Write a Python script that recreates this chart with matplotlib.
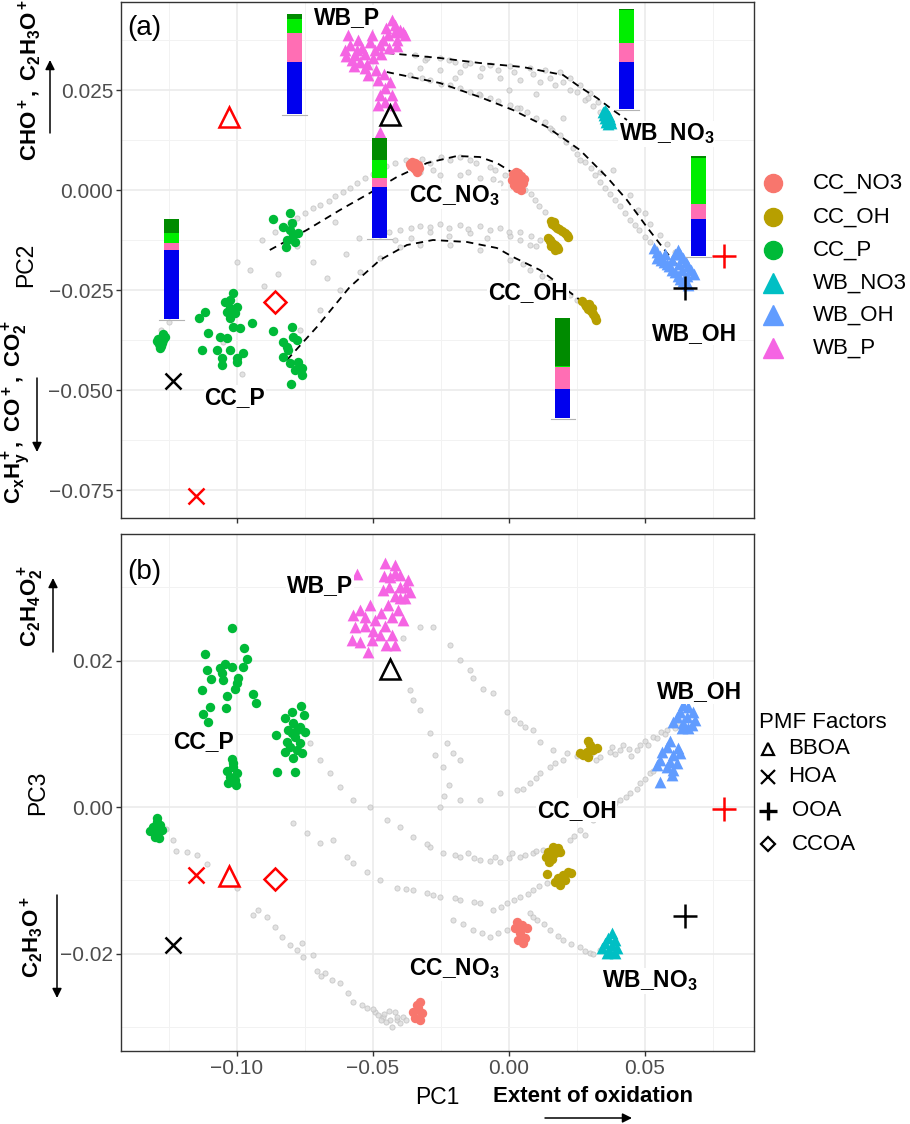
import numpy as np
import matplotlib
matplotlib.use('Agg')
import matplotlib.pyplot as plt
from matplotlib.lines import Line2D
from matplotlib.ticker import MultipleLocator, FuncFormatter

plt.rcParams['font.family'] = ['Liberation Sans', 'DejaVu Sans']
plt.rcParams['mathtext.fontset'] = 'custom'
plt.rcParams['mathtext.rm'] = 'Liberation Sans'
plt.rcParams['mathtext.bf'] = 'Liberation Sans:bold'
plt.rcParams['mathtext.it'] = 'Liberation Sans:italic'

# ---------------- data: panel (a) PC1 vs PC2 ----------------
bg_a = [
    # WB_P -> WB_NO3 band
    (-0.0346, 0.0338), (-0.0309, 0.0325), (-0.0254, 0.0330), (-0.0199, 0.0320), (-0.0143, 0.0318),
    (-0.0070, 0.0313), (0.0004, 0.0310), (0.0077, 0.0305), (0.0132, 0.0300), (0.0188, 0.0295),
    (0.0224, 0.0280), (0.0261, 0.0263), (0.0298, 0.0243), (0.0327, 0.0220), (0.0353, 0.0200),
    (-0.0327, 0.0305), (-0.0254, 0.0300), (-0.0180, 0.0295), (-0.0107, 0.0285), (-0.0033, 0.0280),
    (0.0040, 0.0275), (0.0114, 0.0270), (0.0169, 0.0263), (0.0224, 0.0250), (0.0279, 0.0225),
    (-0.0300, 0.0330), (-0.0220, 0.0325), (-0.0160, 0.0312), (-0.0100, 0.0305), (-0.0040, 0.0300),
    (0.0020, 0.0295), (0.0090, 0.0290), (0.0150, 0.0280), (0.0200, 0.0270), (0.0250, 0.0245),
    (0.0290, 0.0230), (0.0310, 0.0210), (0.0335, 0.0195),
    # WB_P -> WB_OH band
    (-0.0364, 0.0288), (-0.0290, 0.0275), (-0.0217, 0.0263), (-0.0143, 0.0245), (-0.0070, 0.0230),
    (0.0004, 0.0213), (0.0066, 0.0195), (0.0132, 0.0170), (0.0188, 0.0138), (0.0235, 0.0105),
    (0.0279, 0.0070), (0.0316, 0.0038), (0.0353, 0.0005), (0.0390, -0.0025), (0.0426, -0.0058),
    (0.0463, -0.0088), (0.0500, -0.0118), (0.0537, -0.0145),
    (-0.0107, 0.0238), (0.0040, 0.0205), (0.0151, 0.0155), (0.0261, 0.0075), (0.0335, 0.0045),
    (0.0382, 0.0050), (0.0445, -0.0013), (0.0500, -0.0058), (0.0555, -0.0113), (0.0610, -0.0155),
    (0.0000, 0.0250), (0.0100, 0.0240), (-0.0200, 0.0280), (0.0200, 0.0180),
    (-0.0320, 0.0280), (-0.0250, 0.0265), (-0.0180, 0.0255), (-0.0110, 0.0240), (-0.0040, 0.0222),
    (0.0030, 0.0205), (0.0100, 0.0180), (0.0160, 0.0150), (0.0210, 0.0120), (0.0250, 0.0090),
    (0.0300, 0.0055), (0.0335, 0.0020), (0.0370, -0.0010), (0.0410, -0.0040), (0.0445, -0.0075),
    (0.0480, -0.0100), (0.0520, -0.0130), (0.0475, -0.0050), (0.0520, -0.0085), (0.0580, -0.0135),
    # CC_P -> CC_NO3 band
    (-0.0908, -0.0125), (-0.0860, -0.0105), (-0.0805, -0.0080), (-0.0750, -0.0058), (-0.0695, -0.0038),
    (-0.0640, -0.0015), (-0.0585, 0.0005), (-0.0529, 0.0030), (-0.0474, 0.0050), (-0.0419, 0.0068),
    (-0.0290, 0.0068), (-0.0217, 0.0075), (-0.0143, 0.0075), (-0.0070, 0.0058), (-0.0015, 0.0038),
    (-0.0327, 0.0045), (-0.0254, 0.0038), (-0.0180, 0.0038), (-0.0107, 0.0030), (-0.0033, 0.0018),
    (0.0040, 0.0005), (0.0059, 0.0000), (0.0096, -0.0025), (0.0132, -0.0055),
    (-0.0450, 0.0060), (-0.0380, 0.0075), (-0.0320, 0.0078), (-0.0250, 0.0082), (-0.0180, 0.0083),
    (-0.0120, 0.0068), (-0.0050, 0.0050), (-0.0280, 0.0050), (-0.0150, 0.0045), (-0.0060, 0.0028),
    (0.0080, -0.0010), (0.0110, -0.0040),
    (-0.0830, -0.0095), (-0.0780, -0.0070), (-0.0720, -0.0045), (-0.0660, -0.0028), (-0.0610, -0.0005),
    (-0.0560, 0.0018), (-0.0500, 0.0040),
    # middle band towards CC_OH
    (-0.0474, -0.0113), (-0.0401, -0.0100), (-0.0327, -0.0090), (-0.0254, -0.0085), (-0.0180, -0.0088),
    (-0.0107, -0.0090), (-0.0033, -0.0095), (0.0040, -0.0105), (0.0114, -0.0125), (-0.0419, -0.0125),
    (-0.0290, -0.0105), (-0.0143, -0.0108), (0.0004, -0.0115), (0.0077, -0.0138),
    (-0.0440, -0.0105), (-0.0360, -0.0095), (-0.0290, -0.0092), (-0.0220, -0.0095), (-0.0150, -0.0098),
    (-0.0070, -0.0100), (0.0000, -0.0105), (0.0080, -0.0115), (-0.0360, -0.0120), (-0.0220, -0.0115),
    (-0.0080, -0.0120), (0.0040, -0.0125), (0.0100, -0.0140),
    # lower arc
    (-0.0768, -0.0350), (-0.0695, -0.0300), (-0.0621, -0.0250), (-0.0548, -0.0205), (-0.0474, -0.0170),
    (-0.0401, -0.0143), (-0.0327, -0.0138), (-0.0217, -0.0138), (-0.0107, -0.0150), (0.0004, -0.0175),
    (0.0077, -0.0200), (0.0151, -0.0230), (0.0224, -0.0263), (0.0279, -0.0288),
    (0.0050, -0.0185), (0.0120, -0.0215), (0.0190, -0.0245), (0.0250, -0.0275),
    # scattered
    (-0.0950, -0.0200), (-0.0900, -0.0240), (-0.0850, -0.0210), (-0.0720, -0.0180), (-0.0670, -0.0220),
    (-0.0600, -0.0160), (-0.0550, -0.0120), (-0.1000, -0.0180), (-0.0780, -0.0140), (-0.0640, -0.0080),
    (-0.1050, -0.0380), (-0.0980, -0.0460), (-0.1280, -0.0350), (-0.1250, -0.0330),
]

cc_no3_a = [(-0.0365, 0.0065), (-0.0355, 0.0070), (-0.0345, 0.0068), (-0.0335, 0.0062), (-0.0330, 0.0055),
            (-0.0340, 0.0050), (-0.0350, 0.0056), (-0.0360, 0.0060), (-0.0338, 0.0045),
            (0.0015, 0.0040), (0.0025, 0.0045), (0.0035, 0.0042), (0.0045, 0.0035), (0.0055, 0.0028),
            (0.0050, 0.0018), (0.0040, 0.0010), (0.0030, 0.0005), (0.0020, 0.0012), (0.0012, 0.0025),
            (0.0030, 0.0025), (0.0045, 0.0000)]
cc_oh_a = [(0.0155, -0.0078), (0.0160, -0.0085), (0.0168, -0.0090), (0.0175, -0.0095), (0.0185, -0.0098),
           (0.0195, -0.0103), (0.0205, -0.0108), (0.0212, -0.0113), (0.0218, -0.0118), (0.0165, -0.0080),
           (0.0145, -0.0120), (0.0152, -0.0128), (0.0160, -0.0133), (0.0168, -0.0138), (0.0175, -0.0143),
           (0.0182, -0.0148), (0.0155, -0.0140), (0.0170, -0.0150), (0.0150, -0.0125),
           (0.0270, -0.0278), (0.0278, -0.0285), (0.0285, -0.0290), (0.0292, -0.0297), (0.0300, -0.0302),
           (0.0308, -0.0310), (0.0315, -0.0318), (0.0322, -0.0325), (0.0295, -0.0285), (0.0305, -0.0295)]
cc_p_a = [(-0.1295, -0.0378), (-0.1288, -0.0385), (-0.1280, -0.0390), (-0.1272, -0.0375), (-0.1265, -0.0368),
          (-0.1283, -0.0395), (-0.1290, -0.0372), (-0.1275, -0.0382), (-0.1270, -0.0360),
          (-0.1140, -0.0320), (-0.1118, -0.0305), (-0.1107, -0.0358), (-0.1129, -0.0400), (-0.1074, -0.0400),
          (-0.1055, -0.0420), (-0.1055, -0.0438), (-0.1063, -0.0367), (-0.1037, -0.0370), (-0.1026, -0.0400),
          (-0.1000, -0.0420), (-0.1000, -0.0430), (-0.0978, -0.0408), (-0.1015, -0.0258), (-0.1044, -0.0280),
          (-0.1026, -0.0295), (-0.1007, -0.0308), (-0.1026, -0.0320), (-0.1000, -0.0293), (-0.1015, -0.0343),
          (-0.0989, -0.0345), (-0.0945, -0.0333), (-0.1037, -0.0305), (-0.1026, -0.0275),
          (-0.0868, -0.0353), (-0.0798, -0.0343), (-0.0831, -0.0380), (-0.0794, -0.0368), (-0.0779, -0.0375),
          (-0.0816, -0.0393), (-0.0831, -0.0418), (-0.0805, -0.0433), (-0.0776, -0.0430), (-0.0761, -0.0445),
          (-0.0787, -0.0450), (-0.0761, -0.0463), (-0.0801, -0.0485), (-0.0812, -0.0400),
          (-0.0868, -0.0073), (-0.0805, -0.0058), (-0.0831, -0.0093), (-0.0805, -0.0100), (-0.0794, -0.0113),
          (-0.0776, -0.0108), (-0.0816, -0.0125), (-0.0787, -0.0130), (-0.0820, -0.0143), (-0.0798, -0.0083)]
wb_no3_a = [(0.0345, 0.0195), (0.0350, 0.0188), (0.0360, 0.0192), (0.0368, 0.0185), (0.0355, 0.0180),
            (0.0362, 0.0175), (0.0370, 0.0172), (0.0375, 0.0168), (0.0365, 0.0165), (0.0358, 0.0170),
            (0.0372, 0.0178), (0.0352, 0.0200)]
wb_oh_a = [(0.0535, -0.0145), (0.0545, -0.0155), (0.0555, -0.0165), (0.0545, -0.0170), (0.0560, -0.0175),
           (0.0570, -0.0180), (0.0580, -0.0185), (0.0590, -0.0190), (0.0600, -0.0200), (0.0610, -0.0205),
           (0.0620, -0.0215), (0.0630, -0.0222), (0.0640, -0.0228), (0.0650, -0.0232), (0.0660, -0.0238),
           (0.0610, -0.0160), (0.0620, -0.0150), (0.0630, -0.0160), (0.0640, -0.0170), (0.0650, -0.0180),
           (0.0660, -0.0190), (0.0670, -0.0200), (0.0680, -0.0210), (0.0625, -0.0185), (0.0575, -0.0160),
           (0.0655, -0.0215), (0.0600, -0.0175), (0.0635, -0.0200)]
wb_p_a = [(-0.0585, 0.0363), (-0.0603, 0.0350), (-0.0566, 0.0338), (-0.0540, 0.0355), (-0.0511, 0.0370),
          (-0.0548, 0.0320), (-0.0529, 0.0305), (-0.0577, 0.0325), (-0.0493, 0.0350), (-0.0474, 0.0363),
          (-0.0445, 0.0388), (-0.0419, 0.0413), (-0.0401, 0.0400), (-0.0430, 0.0425), (-0.0382, 0.0388),
          (-0.0463, 0.0375), (-0.0412, 0.0375), (-0.0504, 0.0388), (-0.0518, 0.0288), (-0.0482, 0.0275),
          (-0.0456, 0.0255), (-0.0437, 0.0270), (-0.0474, 0.0238), (-0.0430, 0.0238), (-0.0456, 0.0220),
          (-0.0482, 0.0213), (-0.0419, 0.0213), (-0.0555, 0.0375), (-0.0592, 0.0388), (-0.0474, 0.0145),
          (-0.0560, 0.0350), (-0.0530, 0.0340), (-0.0500, 0.0330), (-0.0470, 0.0340), (-0.0440, 0.0355),
          (-0.0410, 0.0360), (-0.0390, 0.0395), (-0.0420, 0.0395), (-0.0450, 0.0405), (-0.0520, 0.0315),
          (-0.0490, 0.0300), (-0.0460, 0.0290), (-0.0600, 0.0335), (-0.0570, 0.0310)]

# loess-type trend curves in panel (a)
curve_wb_no3 = [(-0.0449, 0.03425), (-0.0254, 0.0330), (-0.0107, 0.03175), (0.0051, 0.03075), (0.0199, 0.02875),
                (0.0261, 0.02575), (0.0324, 0.0230), (0.0382, 0.0200), (0.0434, 0.0175)]
curve_wb_oh = [(-0.0449, 0.0295), (-0.0254, 0.02675), (-0.0107, 0.02325), (0.0015, 0.0200), (0.0140, 0.01575),
               (0.0261, 0.0100), (0.0360, 0.00325), (0.0434, -0.0025), (0.0507, -0.00925), (0.0581, -0.01575),
               (0.0665, -0.0225)]
curve_cc_no3 = [(-0.0879, -0.0150), (-0.0743, -0.0100), (-0.0621, -0.0050), (-0.0511, -0.00075), (-0.0412, 0.00325),
                (-0.0301, 0.00675), (-0.0191, 0.0085), (-0.0107, 0.00825), (-0.0044, 0.00675), (0.0015, 0.00425)]
curve_cc_oh = [(-0.0816, -0.0425), (-0.0706, -0.03425), (-0.0585, -0.02425), (-0.0474, -0.0175), (-0.0375, -0.01375),
               (-0.0279, -0.0125), (-0.0154, -0.0130), (-0.0044, -0.0145), (0.0015, -0.01675), (0.0114, -0.0200),
               (0.0199, -0.02425), (0.0261, -0.0275), (0.0324, -0.0330)]

# stacked composition bars (fractions, bottom -> top)
bar_groups = ['WB_P', 'CC_NO3', 'CC_P', 'WB_NO3', 'WB_OH', 'CC_OH']
frac_blue = [0.52, 0.52, 0.69, 0.47, 0.37, 0.29]
frac_pink = [0.29, 0.09, 0.07, 0.19, 0.16, 0.22]
frac_lime = [0.14, 0.18, 0.10, 0.33, 0.46, 0.01]
frac_dkgreen = [0.05, 0.22, 0.14, 0.01, 0.02, 0.48]

# ---------------- data: panel (b) PC1 vs PC3 ----------------
bg_b = [
    (-0.1184, -0.0061), (-0.1147, -0.0066), (-0.1110, -0.0078), (-0.0941, -0.0147), (-0.0923, -0.0141),
    (-0.0860, -0.0164), (-0.0835, -0.0177), (-0.0805, -0.0188), (-0.0761, -0.0186), (-0.0757, -0.0205),
    (-0.0721, -0.0202), (-0.0706, -0.0224), (-0.0676, -0.0227), (-0.0651, -0.0236), (-0.0621, -0.0240),
    (-0.0592, -0.0254), (-0.0574, -0.0266), (-0.0522, -0.0274), (-0.0493, -0.0280), (-0.0463, -0.0287),
    (-0.0438, -0.0291), (-0.0412, -0.0291), (-0.0390, -0.0287), (-0.0480, -0.0284), (-0.0450, -0.0293),
    (-0.0420, -0.0280), (-0.0400, -0.0295), (-0.0440, -0.0278), (-0.0470, -0.0291), (-0.0430, -0.0300),
    (-0.1260, -0.0030), (-0.1235, -0.0045), (-0.1225, -0.0060),
    (-0.0540, -0.0270), (-0.0500, -0.0276), (-0.0460, -0.0282), (-0.0410, -0.0286), (-0.0380, -0.0290),
    (-0.1000, -0.0110), (-0.0890, -0.0150), (-0.0780, -0.0195), (-0.0690, -0.0230),
    (-0.0732, 0.0087), (-0.0695, 0.0064), (-0.0658, 0.0046), (-0.0621, 0.0027), (-0.0574, 0.0010),
    (-0.0511, 0.0000), (-0.0449, -0.0018), (-0.0401, -0.0027), (-0.0353, -0.0041), (-0.0290, -0.0055),
    (-0.0243, -0.0063), (-0.0180, -0.0068), (-0.0107, -0.0072), (-0.0033, -0.0075), (0.0040, -0.0068),
    (0.0088, -0.0063), (0.0125, -0.0059), (0.0224, -0.0045), (0.0261, -0.0031), (0.0309, -0.0018),
    (0.0360, -0.0004), (0.0408, 0.0010), (0.0445, 0.0019), (0.0482, 0.0033), (0.0518, 0.0046),
    (0.0544, 0.0055), (-0.0150, -0.0062), (-0.0050, -0.0068), (0.0010, -0.0062), (0.0280, -0.0038),
    (0.0350, -0.0010), (0.0430, 0.0014), (0.0500, 0.0038),
    (-0.0300, -0.0050), (-0.0200, -0.0066), (-0.0130, -0.0070), (-0.0070, -0.0073), (0.0000, -0.0070),
    (0.0060, -0.0066), (0.0100, -0.0060), (0.0240, -0.0040), (0.0330, -0.0012), (0.0390, 0.0005),
    (0.0470, 0.0025), (0.0530, 0.0050),
    (-0.0794, -0.0022), (-0.0743, -0.0035), (-0.0695, -0.0049), (-0.0647, -0.0045), (-0.0596, -0.0068),
    (-0.0574, -0.0076), (-0.0522, -0.0089), (-0.0474, -0.0100), (-0.0412, -0.0111), (-0.0353, -0.0113),
    (-0.0301, -0.0117), (-0.0254, -0.0123), (-0.0180, -0.0127), (-0.0107, -0.0131), (-0.0059, -0.0141),
    (-0.0007, -0.0131), (0.0040, -0.0123), (0.0088, -0.0113), (0.0140, -0.0104),
    (-0.0380, -0.0112), (-0.0280, -0.0120), (-0.0200, -0.0124), (-0.0130, -0.0130), (-0.0030, -0.0136),
    (0.0020, -0.0127), (0.0070, -0.0118), (0.0110, -0.0108),
    (-0.0390, 0.0231), (-0.0327, 0.0246), (-0.0279, 0.0246), (-0.0217, 0.0221), (-0.0180, 0.0201),
    (-0.0143, 0.0187), (-0.0132, 0.0176), (-0.0096, 0.0162), (-0.0059, 0.0156), (-0.0007, 0.0130),
    (0.0040, 0.0115), (0.0088, 0.0105), (0.0114, 0.0089), (0.0162, 0.0078), (0.0213, 0.0074),
    (0.0335, 0.0068), (0.0408, 0.0078), (0.0482, 0.0085), (0.0529, 0.0096), (0.0581, 0.0105),
    (0.0603, 0.0112), (0.0300, 0.0072), (0.0370, 0.0075), (0.0440, 0.0080), (0.0500, 0.0090),
    (0.0560, 0.0102), (0.0620, 0.0115), (0.0450, 0.0070), (0.0380, 0.0082),
    (0.0250, 0.0070), (0.0320, 0.0065), (0.0390, 0.0072), (0.0420, 0.0085), (0.0470, 0.0078),
    (0.0510, 0.0085), (0.0545, 0.0095), (0.0575, 0.0100), (0.0610, 0.0108),
    (0.0050, 0.0025), (0.0100, 0.0040), (0.0170, 0.0060), (0.0060, 0.0110), (0.0020, 0.0120),
    (-0.0254, 0.0000), (-0.0180, 0.0010), (-0.0107, 0.0010), (-0.0033, 0.0019), (0.0029, 0.0023),
    (0.0077, 0.0033), (0.0114, 0.0046), (0.0151, 0.0055), (0.0199, 0.0064),
    (-0.0364, 0.0160), (-0.0353, 0.0146), (-0.0327, 0.0132), (-0.0290, 0.0101), (-0.0272, 0.0071),
    (-0.0243, 0.0055), (-0.0228, 0.0087), (-0.0206, 0.0074), (-0.0180, 0.0064), (-0.0220, 0.0030),
    (-0.0240, 0.0015),
    (-0.0206, -0.0154), (-0.0132, -0.0168), (-0.0070, -0.0177), (-0.0007, -0.0168), (0.0077, -0.0145),
    (0.0103, -0.0154), (0.0151, -0.0168), (0.0199, -0.0182), (0.0261, -0.0191), (0.0298, -0.0199),
    (0.0335, -0.0195),
    (-0.0170, -0.0160), (-0.0100, -0.0172), (-0.0040, -0.0172), (0.0090, -0.0150), (0.0130, -0.0160),
    (0.0180, -0.0176), (0.0230, -0.0187), (0.0280, -0.0196), (0.0310, -0.0200),
]

cc_no3_b = [(0.0029, -0.0157), (0.0048, -0.0161), (0.0066, -0.0165), (0.0022, -0.0165), (0.0040, -0.0172),
            (0.0059, -0.0179), (0.0033, -0.0182), (0.0051, -0.0186),
            (-0.0327, -0.0266), (-0.0335, -0.0274), (-0.0353, -0.0280), (-0.0320, -0.0281), (-0.0346, -0.0288),
            (-0.0327, -0.0291), (-0.0338, -0.0270)]
cc_oh_b = [(0.0290, 0.0091), (0.0298, 0.0085), (0.0324, 0.0081), (0.0287, 0.0075), (0.0272, 0.0071),
           (0.0261, 0.0074), (0.0290, 0.0068), (0.0309, 0.0078),
           (0.0162, -0.0055), (0.0180, -0.0056), (0.0143, -0.0061), (0.0169, -0.0063), (0.0136, -0.0068),
           (0.0158, -0.0071), (0.0147, -0.0075), (0.0188, -0.0061),
           (0.0140, -0.0091), (0.0217, -0.0089), (0.0199, -0.0093), (0.0180, -0.0097), (0.0169, -0.0102),
           (0.0188, -0.0106), (0.0206, -0.0100), (0.0228, -0.0090)]
cc_p_b = [(-0.1018, 0.0244), (-0.1118, 0.0209), (-0.0974, 0.0218), (-0.0963, 0.0202), (-0.1110, 0.0187),
          (-0.1063, 0.0190), (-0.1044, 0.0195), (-0.1018, 0.0192), (-0.0978, 0.0192), (-0.1096, 0.0175),
          (-0.1051, 0.0173), (-0.0996, 0.0177), (-0.1000, 0.0169), (-0.1007, 0.0162), (-0.1129, 0.0160),
          (-0.1037, 0.0152), (-0.0941, 0.0154), (-0.0930, 0.0142), (-0.1099, 0.0137), (-0.1040, 0.0135),
          (-0.1125, 0.0127), (-0.1107, 0.0116), (-0.1055, 0.0183),
          (-0.0798, 0.0130), (-0.0765, 0.0138), (-0.0754, 0.0126), (-0.0824, 0.0122), (-0.0794, 0.0115),
          (-0.0768, 0.0109), (-0.0812, 0.0105), (-0.0750, 0.0102), (-0.0857, 0.0098), (-0.0787, 0.0096),
          (-0.0816, 0.0089), (-0.0768, 0.0087), (-0.0805, 0.0082), (-0.0779, 0.0078), (-0.0824, 0.0075),
          (-0.0761, 0.0074), (-0.0794, 0.0067), (-0.0853, 0.0048), (-0.0787, 0.0048), (-0.0798, 0.0101),
          (-0.0779, 0.0105),
          (-0.1018, 0.0066), (-0.1015, 0.0055), (-0.1037, 0.0049), (-0.1000, 0.0046), (-0.1026, 0.0041),
          (-0.1007, 0.0037), (-0.1033, 0.0033), (-0.1004, 0.0030), (-0.1015, 0.0060),
          (-0.1294, -0.0020), (-0.1309, -0.0027), (-0.1283, -0.0025), (-0.1320, -0.0033), (-0.1294, -0.0034),
          (-0.1276, -0.0031), (-0.1301, -0.0041), (-0.1287, -0.0042), (-0.1294, -0.0015)]
wb_no3_b = [(0.0379, -0.0172), (0.0364, -0.0179), (0.0390, -0.0182), (0.0353, -0.0186), (0.0379, -0.0188),
            (0.0342, -0.0192), (0.0397, -0.0192), (0.0371, -0.0198), (0.0390, -0.0199), (0.0360, -0.0199)]
wb_oh_b = [(0.0640, 0.0139), (0.0658, 0.0137), (0.0629, 0.0130), (0.0676, 0.0130), (0.0618, 0.0123),
           (0.0654, 0.0123), (0.0684, 0.0119), (0.0603, 0.0116), (0.0640, 0.0115), (0.0673, 0.0112),
           (0.0636, 0.0108), (0.0658, 0.0108),
           (0.0592, 0.0091), (0.0581, 0.0082), (0.0621, 0.0081), (0.0563, 0.0075), (0.0603, 0.0071),
           (0.0629, 0.0074), (0.0555, 0.0064), (0.0592, 0.0061), (0.0618, 0.0060), (0.0544, 0.0057),
           (0.0581, 0.0055), (0.0603, 0.0051), (0.0599, 0.0044), (0.0555, 0.0034)]
wb_p_b = [(-0.0456, 0.0333), (-0.0419, 0.0330), (-0.0401, 0.0317), (-0.0371, 0.0310), (-0.0437, 0.0314),
          (-0.0463, 0.0296), (-0.0419, 0.0289), (-0.0382, 0.0285), (-0.0364, 0.0294), (-0.0445, 0.0276),
          (-0.0408, 0.0269), (-0.0574, 0.0262), (-0.0548, 0.0269), (-0.0511, 0.0276), (-0.0493, 0.0255),
          (-0.0529, 0.0248), (-0.0566, 0.0246), (-0.0456, 0.0248), (-0.0474, 0.0235), (-0.0430, 0.0235),
          (-0.0504, 0.0228), (-0.0548, 0.0225), (-0.0452, 0.0221), (-0.0419, 0.0221), (-0.0559, 0.0319),
          (-0.0577, 0.0228), (-0.0518, 0.0212),
          (-0.0440, 0.0300), (-0.0400, 0.0300), (-0.0380, 0.0300), (-0.0470, 0.0265), (-0.0430, 0.0260),
          (-0.0390, 0.0255), (-0.0500, 0.0240), (-0.0530, 0.0260), (-0.0420, 0.0320), (-0.0460, 0.0315),
          (-0.0400, 0.0285)]

# PMF factor profiles projected on the PCs
pmf_black = ['BBOA', 'HOA', 'OOA']
pmf_black_pc1 = [-0.0436, -0.1236, 0.0648]
pmf_black_pc2 = [0.0187, -0.0478, -0.0245]
pmf_black_pc3 = [0.0188, -0.0188, -0.0149]
pmf_red = ['BBOA', 'HOA', 'OOA', 'CCOA']
pmf_red_pc1 = [-0.1030, -0.1150, 0.0790, -0.0860]
pmf_red_pc2 = [0.0183, -0.0765, -0.0165, -0.0280]
pmf_red_pc3 = [-0.0094, -0.0092, -0.0003, -0.0098]

groups = ['CC_NO3', 'CC_OH', 'CC_P', 'WB_NO3', 'WB_OH', 'WB_P']
group_colors = ['#F8766D', '#B79F00', '#00BA38', '#00BFC4', '#619CFF', '#F564E3']
group_markers = ['o', 'o', 'o', '^', '^', '^']
pmf_markers = {'BBOA': '^', 'HOA': 'x', 'OOA': '+', 'CCOA': 'D'}

# ---------------- figure ----------------
W, H = 910, 1124
fig = plt.figure(figsize=(W / 100, H / 100), dpi=100)


def fx(px):
    return px / W


def fy(py):
    return 1 - py / H


ax_a = fig.add_axes([fx(121), fy(518), 633 / W, 516 / H])
ax_b = fig.add_axes([fx(121), fy(1051), 633 / W, 517 / H])


def minus_fmt(dec):
    return FuncFormatter(lambda v, p: f"{v:.{dec}f}".replace('-', '\u2212'))


def style(ax, ylim, ystep, ydec):
    ax.set_xlim(-0.1426, 0.0901)
    ax.set_ylim(*ylim)
    ax.xaxis.set_major_locator(MultipleLocator(0.05))
    ax.xaxis.set_minor_locator(MultipleLocator(0.025))
    ax.yaxis.set_major_locator(MultipleLocator(ystep))
    ax.yaxis.set_minor_locator(MultipleLocator(ystep / 2))
    ax.xaxis.set_major_formatter(minus_fmt(2))
    ax.yaxis.set_major_formatter(minus_fmt(ydec))
    ax.grid(which='major', color='#ebebeb', lw=1.2)
    ax.grid(which='minor', color='#f2f2f2', lw=0.7)
    ax.set_axisbelow(True)
    ax.tick_params(which='minor', length=0)
    ax.tick_params(which='major', length=3.5, width=1, color='#333333',
                   labelsize=15, labelcolor='#4d4d4d', pad=2)
    for s in ax.spines.values():
        s.set_color('#333333')
        s.set_linewidth(1)


style(ax_a, (-0.082, 0.047), 0.025, 3)
style(ax_b, (-0.0333, 0.0373), 0.02, 2)
ax_a.tick_params(labelbottom=False)

group_data_a = [cc_no3_a, cc_oh_a, cc_p_a, wb_no3_a, wb_oh_a, wb_p_a]
group_data_b = [cc_no3_b, cc_oh_b, cc_p_b, wb_no3_b, wb_oh_b, wb_p_b]


def draw_points(ax, bg, gdata):
    b = np.array(bg)
    ax.scatter(b[:, 0], b[:, 1], s=14, facecolor='#d9d9d9', edgecolor='#bcbcbc',
               lw=0.6, alpha=0.75, zorder=1)
    for pts, c, m in zip(gdata, group_colors, group_markers):
        p = np.array(pts)
        ax.scatter(p[:, 0], p[:, 1], s=46 if m == 'o' else 72, color=c, marker=m,
                   lw=0, zorder=3)


draw_points(ax_a, bg_a, group_data_a)
draw_points(ax_b, bg_b, group_data_b)

for curve in [curve_wb_no3, curve_wb_oh, curve_cc_no3, curve_cc_oh]:
    c = np.array(curve)
    ax_a.plot(c[:, 0], c[:, 1], color='black', ls=(0, (4, 3)), lw=1.3, zorder=2)

# composition bars placed next to the clusters
bar_x = [-0.0789, -0.0476, -0.1241, 0.0434, 0.0697, 0.01985]
bar_y0 = [0.0190, -0.0120, -0.03225, 0.02025, -0.0165, -0.0570]
bar_h, bar_w = 0.025, 0.0055
seg_colors = ['#0000EE', '#FF6EB4', '#00EE00', '#008B00']
for i, g in enumerate(bar_groups):
    fr = np.array([frac_blue[i], frac_pink[i], frac_lime[i], frac_dkgreen[i]])
    fr = fr / fr.sum()
    bottom = bar_y0[i]
    for f, col in zip(fr, seg_colors):
        ax_a.bar(bar_x[i], f * bar_h, width=bar_w, bottom=bottom, color=col, lw=0, zorder=4)
        bottom += f * bar_h
    ax_a.plot([bar_x[i] - 0.0045, bar_x[i] + 0.0045], [bar_y0[i] - 0.0002] * 2,
              color='#b3b3b3', lw=0.8, zorder=4)


def draw_pmf(ax, names, xs, ys, color):
    for n, x, y in zip(names, xs, ys):
        m = pmf_markers[n]
        size = {'^': 15, 'x': 12, '+': 17, 'D': 11}[m]
        ax.plot(x, y, marker=m, ms=size, mfc='none', mec=color, mew=1.8, ls='none', zorder=5)


draw_pmf(ax_a, pmf_black, pmf_black_pc1, pmf_black_pc2, 'black')
draw_pmf(ax_a, pmf_red, pmf_red_pc1, pmf_red_pc2, '#FF0000')
draw_pmf(ax_b, pmf_black, pmf_black_pc1, pmf_black_pc3, 'black')
draw_pmf(ax_b, pmf_red, pmf_red_pc1, pmf_red_pc3, '#FF0000')

# cluster labels
lab_kw = dict(fontsize=16.5, fontweight='bold', ha='center', va='center', zorder=6,
              bbox=dict(fc='white', ec='none', pad=0.5))
labels_a = [('WB_P', -0.0596, 0.0432), ('WB_NO$_\\mathbf{3}$', 0.0580, 0.0140), ('CC_NO$_\\mathbf{3}$', -0.0199, -0.0015),
            ('CC_OH', 0.0070, -0.0257), ('WB_OH', 0.0684, -0.0358), ('CC_P', -0.1007, -0.0518)]
labels_b = [('WB_P', -0.0695, 0.0303), ('CC_P', -0.1121, 0.0090), ('WB_OH', 0.0702, 0.0158),
            ('CC_OH', 0.0250, -0.0004), ('CC_NO$_\\mathbf{3}$', -0.0199, -0.0220), ('WB_NO$_\\mathbf{3}$', 0.0518, -0.0237)]
for t, x, y in labels_a:
    ax_a.text(x, y, t, **lab_kw)
for t, x, y in labels_b:
    ax_b.text(x, y, t, **lab_kw)

fig.text(fx(144), fy(28), '(a)', fontsize=20, ha='center', va='center')
fig.text(fx(144), fy(572), '(b)', fontsize=20, ha='center', va='center')

# axis titles
ykw = dict(rotation=90, ha='center', va='center', fontsize=16)
fig.text(fx(30), fy(80), r'$\mathbf{CHO^+,\ C_2H_3O^+}$', **ykw)
fig.text(fx(26), fy(265), 'PC2', rotation=90, ha='center', va='center', fontsize=16.5)
fig.text(fx(16), fy(412), r'$\mathbf{C_xH_y^+,\ CO^+,\ CO_2^+}$', **ykw)
fig.text(fx(31), fy(606), r'$\mathbf{C_2H_4O_2^+}$', **ykw)
fig.text(fx(38), fy(793), 'PC3', rotation=90, ha='center', va='center', fontsize=16.5)
fig.text(fx(32), fy(937), r'$\mathbf{C_2H_3O^+}$', **ykw)
fig.text(fx(437), fy(1097), 'PC1', ha='center', va='center', fontsize=16.5)
fig.text(fx(593), fy(1096), 'Extent of oxidation', ha='center', va='center', fontsize=16, fontweight='bold')

arrow_kw = dict(arrowstyle='-|>', color='black', lw=1.1, mutation_scale=14, shrinkA=0, shrinkB=0)
for (x0, y0), (x1, y1) in [((50, 133), (50, 60)), ((37, 378), (37, 452)),
                           ((53, 652), (53, 578)), ((57, 895), (57, 998)),
                           ((545, 1118), (632, 1118))]:
    fig.add_artist(matplotlib.patches.FancyArrowPatch((fx(x0), fy(y0)), (fx(x1), fy(y1)),
                                                      transform=fig.transFigure, **arrow_kw))

# legend: groups
leg_y = [183, 217, 250, 283, 315, 348]
for g, c, m, yy in zip(groups, group_colors, group_markers, leg_y):
    fig.add_artist(Line2D([fx(773)], [fy(yy)], marker=m, ms=13 if m == 'o' else 14, color=c,
                          lw=0, transform=fig.transFigure))
    fig.text(fx(813), fy(yy), g, fontsize=16, ha='left', va='center')

# legend: PMF factors
fig.text(fx(759), fy(722), 'PMF Factors', fontsize=16, ha='left', va='center')
pmf_leg = [('BBOA', 749, 788), ('HOA', 777, 788), ('OOA', 811, 792), ('CCOA', 844, 792)]
for n, yy, tx in pmf_leg:
    m = pmf_markers[n]
    size = {'^': 9, 'x': 10, '+': 13, 'D': 7}[m]
    fig.add_artist(Line2D([fx(768)], [fy(yy)], marker=m, ms=size, mfc='none', mec='black',
                          mew=1.6 if m != '+' else 2.4, lw=0, transform=fig.transFigure))
    fig.text(fx(tx), fy(yy), n, fontsize=16, ha='left', va='center')

fig.savefig('out.png', dpi=100)
